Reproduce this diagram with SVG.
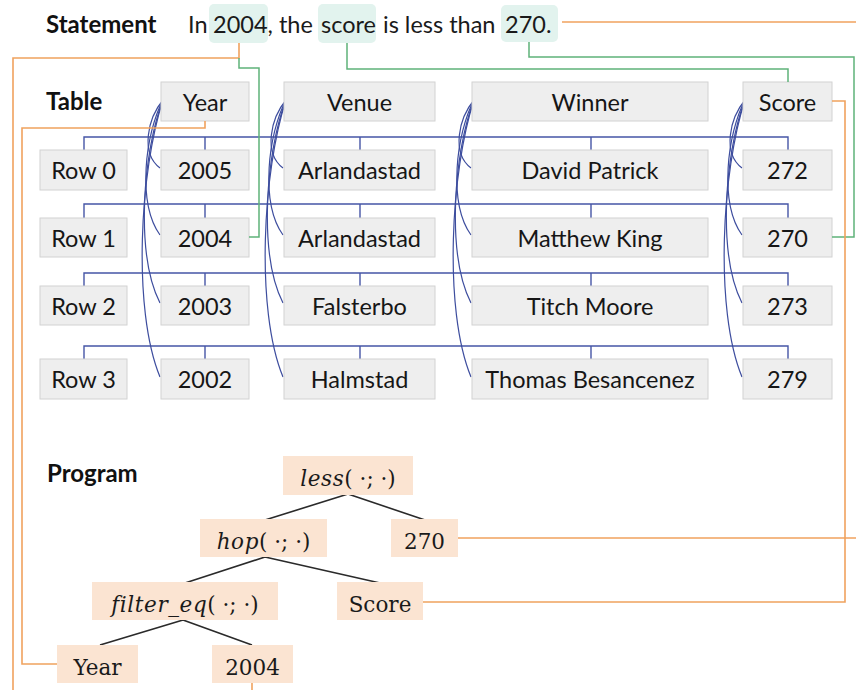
<svg xmlns="http://www.w3.org/2000/svg" width="856" height="690" viewBox="0 0 856 690">
  <style>
    .label { font-family: Lato, "Open Sans", sans-serif; font-weight: bold; font-size: 24px; fill: #111; }
    .stmt { font-family: Lato, "Open Sans", sans-serif; font-size: 23.5px; fill: #1a1a1a; }
    .hl { fill: #e2f3ee; }
    .cell rect { fill: #eeeeee; stroke: #d2d2d2; stroke-width: 1; }
    .cell text { font-family: Lato, "Open Sans", sans-serif; font-size: 23.5px; fill: #161616; text-anchor: middle; }
    .prog rect { fill: #fbe4d2; }
    .prog text { font-family: "DejaVu Serif", "Liberation Serif", serif; font-size: 21.5px; fill: #1a1a1a; text-anchor: middle; }
    .it { font-style: italic; letter-spacing: 0.6px; }
    .row { fill: none; stroke: #4656a6; stroke-width: 1.4; }
    .col { fill: none; stroke: #3d4d9e; stroke-width: 1.2; }
    .tree { fill: none; stroke: #2a2a2a; stroke-width: 1.6; }
    .orange { fill: none; stroke: #f0a25e; stroke-width: 1.6; }
    .green { fill: none; stroke: #5fb27a; stroke-width: 1.5; }
  </style>

  <rect width="856" height="690" fill="#ffffff"/>

  <!-- section labels -->
  <text class="label" x="46" y="33">Statement</text>
  <text class="label" x="46" y="110">Table</text>
  <text class="label" x="47" y="482">Program</text>

  <!-- statement with highlighted spans -->
  <g id="statement">
    <rect class="hl" x="209" y="4" width="59" height="39" rx="5"/>
    <rect class="hl" x="318" y="4" width="58" height="39" rx="5"/>
    <rect class="hl" x="501" y="5" width="57" height="37" rx="5"/>
    <text class="stmt" y="33"><tspan x="188">In</tspan><tspan x="213">2004</tspan><tspan>, the</tspan><tspan x="321">score</tspan><tspan x="383">is less than</tspan><tspan x="505">270.</tspan></text>
  </g>

  <!-- row connectors -->
  <g id="row-links">
    <path class="row" d="M84,150 V137 H788 V150 M205,137 V150 M360,137 V150 M591,137 V150"/>
    <path class="row" d="M84,218 V204 H788 V218 M205,204 V218 M360,204 V218 M591,204 V218"/>
    <path class="row" d="M84,286 V273 H788 V286 M205,273 V286 M360,273 V286 M591,273 V286"/>
    <path class="row" d="M84,359 V346 H788 V359 M205,346 V359 M360,346 V359 M591,346 V359"/>
  </g>

  <!-- column connectors -->
  <g id="col-links">
    <path class="col" d="M163,100 C148,118 140,153 160,168"/>
    <path class="col" d="M163,100 C145,134 137,203 160,235"/>
    <path class="col" d="M163,100 C143,151 135,254 160,303"/>
    <path class="col" d="M163,100 C140,170 132,309 160,377"/>

    <path class="col" d="M286,100 C271,118 263,153 283,168"/>
    <path class="col" d="M286,100 C268,134 260,203 283,235"/>
    <path class="col" d="M286,100 C266,151 258,254 283,303"/>
    <path class="col" d="M286,100 C263,170 255,309 283,377"/>

    <path class="col" d="M474,100 C459,118 451,153 471,168"/>
    <path class="col" d="M474,100 C456,134 448,203 471,235"/>
    <path class="col" d="M474,100 C454,151 446,254 471,303"/>
    <path class="col" d="M474,100 C451,170 443,309 471,377"/>

    <path class="col" d="M745,100 C730,118 722,153 742,168"/>
    <path class="col" d="M745,100 C727,134 719,203 742,235"/>
    <path class="col" d="M745,100 C725,151 717,254 742,303"/>
    <path class="col" d="M745,100 C722,170 714,309 742,377"/>
  </g>

  <!-- table header -->
  <g id="h-year" class="cell"><rect x="161" y="82" width="88" height="39"/><text x="205" y="111">Year</text></g>
  <g id="h-venue" class="cell"><rect x="284" y="82" width="151" height="39"/><text x="359.5" y="111">Venue</text></g>
  <g id="h-winner" class="cell"><rect x="472" y="82" width="236" height="39"/><text x="590" y="111">Winner</text></g>
  <g id="h-score" class="cell"><rect x="743" y="82" width="89" height="39"/><text x="787.5" y="111">Score</text></g>

  <!-- row 0 -->
  <g id="r0" class="cell"><rect x="40" y="150" width="87" height="40"/><text x="83.5" y="179">Row 0</text></g>
  <g id="r0-year" class="cell"><rect x="161" y="150" width="88" height="40"/><text x="205" y="179">2005</text></g>
  <g id="r0-venue" class="cell"><rect x="284" y="150" width="151" height="40"/><text x="359.5" y="179">Arlandastad</text></g>
  <g id="r0-winner" class="cell"><rect x="472" y="150" width="236" height="40"/><text x="590" y="179">David Patrick</text></g>
  <g id="r0-score" class="cell"><rect x="743" y="150" width="89" height="40"/><text x="787.5" y="179">272</text></g>

  <!-- row 1 -->
  <g id="r1" class="cell"><rect x="40" y="218" width="87" height="39"/><text x="83.5" y="247">Row 1</text></g>
  <g id="r1-year" class="cell"><rect x="161" y="218" width="88" height="39"/><text x="205" y="247">2004</text></g>
  <g id="r1-venue" class="cell"><rect x="284" y="218" width="151" height="39"/><text x="359.5" y="247">Arlandastad</text></g>
  <g id="r1-winner" class="cell"><rect x="472" y="218" width="236" height="39"/><text x="590" y="247">Matthew King</text></g>
  <g id="r1-score" class="cell"><rect x="743" y="218" width="89" height="39"/><text x="787.5" y="247">270</text></g>

  <!-- row 2 -->
  <g id="r2" class="cell"><rect x="40" y="286" width="87" height="39"/><text x="83.5" y="315">Row 2</text></g>
  <g id="r2-year" class="cell"><rect x="161" y="286" width="88" height="39"/><text x="205" y="315">2003</text></g>
  <g id="r2-venue" class="cell"><rect x="284" y="286" width="151" height="39"/><text x="359.5" y="315">Falsterbo</text></g>
  <g id="r2-winner" class="cell"><rect x="472" y="286" width="236" height="39"/><text x="590" y="315">Titch Moore</text></g>
  <g id="r2-score" class="cell"><rect x="743" y="286" width="89" height="39"/><text x="787.5" y="315">273</text></g>

  <!-- row 3 -->
  <g id="r3" class="cell"><rect x="40" y="359" width="87" height="40"/><text x="83.5" y="388">Row 3</text></g>
  <g id="r3-year" class="cell"><rect x="161" y="359" width="88" height="40"/><text x="205" y="388">2002</text></g>
  <g id="r3-venue" class="cell"><rect x="284" y="359" width="151" height="40"/><text x="359.5" y="388">Halmstad</text></g>
  <g id="r3-winner" class="cell"><rect x="472" y="359" width="236" height="40"/><text x="590" y="388">Thomas Besancenez</text></g>
  <g id="r3-score" class="cell"><rect x="743" y="359" width="89" height="40"/><text x="787.5" y="388">279</text></g>

  <!-- program tree edges -->
  <g id="tree-edges">
    <path class="tree" d="M348,494 L265,520 M348,494 L425,520"/>
    <path class="tree" d="M265,557 L185,583 M265,557 L380,583"/>
    <path class="tree" d="M183,620 L100,645 M183,620 L252,645"/>
  </g>

  <!-- program nodes -->
  <g id="p-less" class="prog"><rect x="283" y="456" width="130" height="39"/><text x="348" y="486"><tspan class="it">less</tspan>( ·; ·)</text></g>
  <g id="p-hop" class="prog"><rect x="200" y="519" width="127" height="38"/><text x="263.5" y="549"><tspan class="it">hop</tspan>( ·; ·)</text></g>
  <g id="p-270" class="prog"><rect x="391" y="519" width="67" height="38"/><text x="424.5" y="549">270</text></g>
  <g id="p-filter" class="prog"><rect x="92" y="582" width="186" height="38"/><text x="185" y="612"><tspan class="it">filter_eq</tspan>( ·; ·)</text></g>
  <g id="p-score" class="prog"><rect x="337" y="582" width="86" height="38"/><text x="380" y="612">Score</text></g>
  <g id="p-year" class="prog"><rect x="57" y="645" width="81" height="38"/><text x="97.5" y="675">Year</text></g>
  <g id="p-2004" class="prog"><rect x="212" y="645" width="81" height="38"/><text x="252.5" y="675">2004</text></g>

  <!-- grounding links between statement, table and program -->
  <g id="grounding">
    <path class="orange" d="M239,43 V58 H13 V690"/>
    <path class="orange" d="M252,683 V690"/>
    <path class="green" d="M239,58 V68 H259 V237 H249"/>
    <path class="green" d="M347,43 V69 H788 V82"/>
    <path class="green" d="M529,42 V57 H854 V237 H832"/>
    <path class="orange" d="M562,22 H856"/>
    <path class="orange" d="M205,121 V128 H22 V664 H57"/>
    <path class="orange" d="M832,101 H845 V602 H423"/>
    <path class="orange" d="M458,538 H856"/>
  </g>
</svg>
